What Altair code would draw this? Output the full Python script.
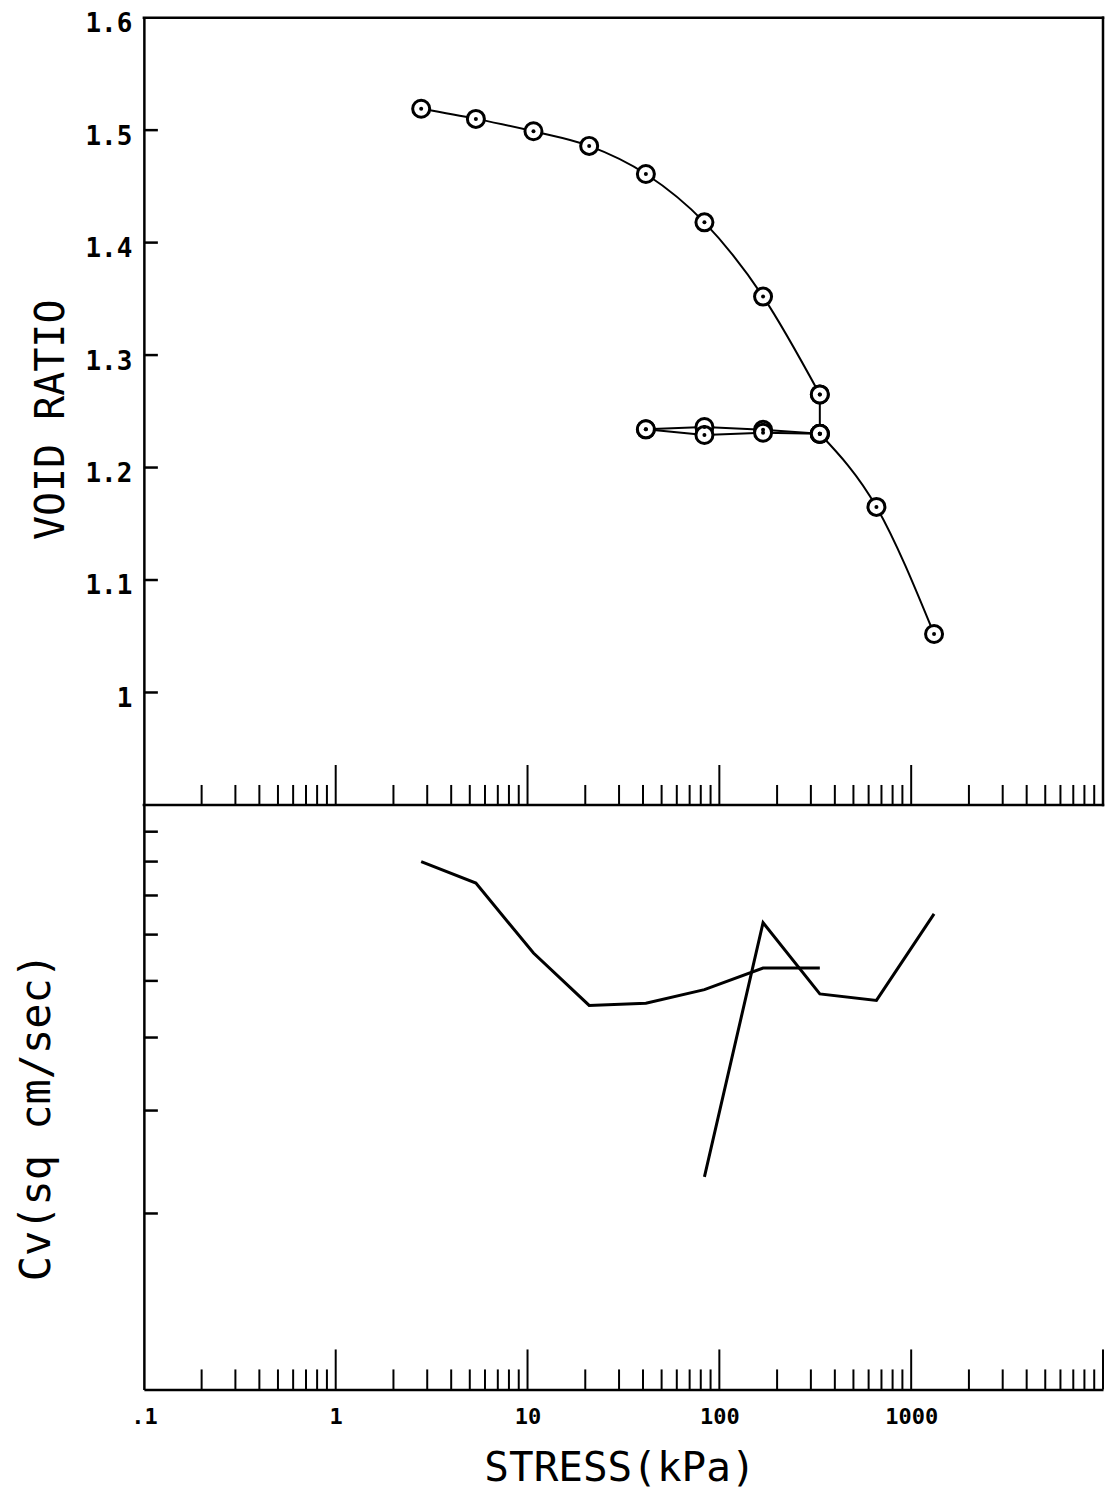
import altair as alt
import pandas as pd

# ---- void ratio vs stress (kPa) ----
load_stress = [2.79, 5.38, 10.74, 20.96, 41.4, 83.6, 169.0, 334.0]
load_void = [1.519, 1.510, 1.499, 1.486, 1.461, 1.418, 1.352, 1.265]
hold_stress = [334.0, 334.0]
hold_void = [1.265, 1.230]
unload_stress = [334.0, 169.0, 83.6, 41.4]
unload_void = [1.230, 1.2335, 1.236, 1.234]
reload_stress = [41.4, 83.6, 169.0, 334.0]
reload_void = [1.234, 1.229, 1.231, 1.230]
final_stress = [334.0, 659.0, 1316.0]
final_void = [1.230, 1.165, 1.052]

# ---- Cv (sq cm/sec) vs stress (kPa) ----
cv_load_stress = [2.79, 5.38, 10.74, 20.96, 41.4, 83.6, 169.0, 334.0]
cv_load = [8.00e-3, 7.35e-3, 5.58e-3, 4.54e-3, 4.58e-3, 4.83e-3, 5.26e-3, 5.26e-3]
cv_reload_stress = [83.6, 169.0, 334.0, 659.0, 1316.0]
cv_reload = [2.31e-3, 6.29e-3, 4.75e-3, 4.63e-3, 6.51e-3]

# ---- axis ticks / labels ----
x_label_values = [0.1, 1, 10, 100, 1000]
x_major_ticks = [1, 10, 100, 1000, 10000]
x_minor_ticks = [0.2, 0.3, 0.4, 0.5, 0.6, 0.7, 0.8, 0.9,
                 2, 3, 4, 5, 6, 7, 8, 9,
                 20, 30, 40, 50, 60, 70, 80, 90,
                 200, 300, 400, 500, 600, 700, 800, 900,
                 2000, 3000, 4000, 5000, 6000, 7000, 8000, 9000]
void_label_values = [1.0, 1.1, 1.2, 1.3, 1.4, 1.5, 1.6]
void_tick_values = [1.0, 1.1, 1.2, 1.3, 1.4, 1.5]
cv_tick_values = [0.002, 0.003, 0.004, 0.005, 0.006, 0.007, 0.008, 0.009]
stress_domain = [0.1, 10000]
void_domain = [0.9, 1.6]
cv_domain = [0.001, 0.01]

W = 960
H_TOP = 788
H_BOT = 585
H = H_TOP + H_BOT

rows = []
for seg, xs, ys in [("load", load_stress, load_void), ("hold", hold_stress, hold_void),
                    ("unload", unload_stress, unload_void), ("reload", reload_stress, reload_void),
                    ("final", final_stress, final_void)]:
    for i, (s, v) in enumerate(zip(xs, ys)):
        rows.append({"stress": s, "value": v, "seg": seg, "i": i})
void_df = pd.DataFrame(rows)

cv_rows = []
for seg, xs, ys in [("cvload", cv_load_stress, cv_load), ("cvreload", cv_reload_stress, cv_reload)]:
    for i, (s, v) in enumerate(zip(xs, ys)):
        cv_rows.append({"stress": s, "value": v, "seg": seg, "i": i})
cv_df = pd.DataFrame(cv_rows)

xminor_df = pd.DataFrame({"stress": x_minor_ticks})
xmajor_df = pd.DataFrame({"stress": x_major_ticks})
vtick_df = pd.DataFrame({"value": void_tick_values})
cvtick_df = pd.DataFrame({"value": cv_tick_values})
# frame of the upper panel (top edge, bottom edge, right edge)
hframe_df = pd.DataFrame({"stress": [stress_domain[0]] * 2, "stress2": [stress_domain[1]] * 2,
                          "value": void_domain})
vframe_df = pd.DataFrame({"stress": [stress_domain[1]], "value": [void_domain[0]],
                          "value2": [void_domain[1]]})

xscale = alt.Scale(type="log", domain=stress_domain, nice=False)
vscale = alt.Scale(domain=void_domain, nice=False, zero=False, range=[H_TOP, 0])
cscale = alt.Scale(type="log", domain=cv_domain, nice=False, range=[H, H_TOP])

FONT = "DejaVu Sans Mono"

top_y_axis = alt.Axis(
    title="VOID RATIO", orient="left", values=void_label_values,
    labelExpr="datum.value == 1 ? '1' : format(datum.value, '.1f')",
    labelFont=FONT, labelFontWeight="bold", labelFontSize=26, labelColor="black",
    labelPadding=12, labelOffset=6, labelFlush=False,
    ticks=False, tickSize=0, grid=False,
    domain=True, domainColor="black", domainWidth=2.5,
    titleFont=FONT, titleFontSize=40, titleFontWeight="normal", titleColor="black",
    titleX=-80, titleY=402, titleAngle=270, titleBaseline="alphabetic", titleAlign="center",
)
bot_y_axis = alt.Axis(
    title="Cv(sq cm/sec)", orient="left", labels=False, ticks=False, tickSize=0, grid=False,
    domain=True, domainColor="black", domainWidth=2.5,
    titleFont=FONT, titleFontSize=42, titleFontWeight="normal", titleColor="black",
    titleX=-94, titleY=H_TOP + 312, titleAngle=270, titleBaseline="alphabetic", titleAlign="center",
)
x_axis = alt.Axis(
    title="STRESS(kPa)", orient="bottom", values=x_label_values,
    labelExpr="datum.value < 1 ? '.1' : format(datum.value, 'd')",
    labelFont=FONT, labelFontWeight="bold", labelFontSize=22, labelColor="black",
    labelPadding=17, labelFlush=False,
    ticks=False, tickSize=0, grid=False,
    domain=True, domainColor="black", domainWidth=2.5,
    titleFont=FONT, titleFontSize=41, titleFontWeight="normal", titleColor="black",
    titleX=476, titleY=91, titleBaseline="alphabetic", titleAlign="center",
)


def X(field="stress"):
    return alt.X(f"{field}:Q", scale=xscale, axis=x_axis)


def Yv(field="value", axis=False):
    return alt.Y(f"{field}:Q", scale=vscale, axis=top_y_axis if axis else None)


def Yc(axis=False):
    return alt.Y("value:Q", scale=cscale, axis=bot_y_axis if axis else None)


base_top = alt.Chart(void_df)
smooth = base_top.transform_filter(
    alt.FieldOneOfPredicate(field="seg", oneOf=["load", "final"])
).mark_line(color="black", strokeWidth=2, interpolate="monotone").encode(
    x=X(), y=Yv(axis=True), detail="seg:N", order="i:Q")
straight = base_top.transform_filter(
    alt.FieldOneOfPredicate(field="seg", oneOf=["hold", "unload", "reload"])
).mark_line(color="black", strokeWidth=2).encode(
    x=X(), y=Yv(), detail="seg:N", order="i:Q")
rings = base_top.mark_point(shape="circle", filled=True, fill="white", stroke="black",
                            strokeWidth=3, size=290, opacity=1).encode(x=X(), y=Yv())
dots = base_top.mark_point(shape="circle", filled=True, color="black", size=16,
                           opacity=1).encode(x=X(), y=Yv())

hframe = alt.Chart(hframe_df).mark_rule(color="black", strokeWidth=2.5, strokeCap="square").encode(
    x=X(), x2="stress2:Q", y=Yv())
vframe = alt.Chart(vframe_df).mark_rule(color="black", strokeWidth=2.5, strokeCap="square").encode(
    x=X(), y=Yv(), y2="value2:Q")

tmin = alt.Chart(xminor_df).mark_rule(color="black", strokeWidth=2).encode(
    x=X(), y=alt.value(H_TOP), y2=alt.value(H_TOP - 20))
tmaj = alt.Chart(xmajor_df).mark_rule(color="black", strokeWidth=2).encode(
    x=X(), y=alt.value(H_TOP), y2=alt.value(H_TOP - 40))
bmin = alt.Chart(xminor_df).mark_rule(color="black", strokeWidth=2).encode(
    x=X(), y=alt.value(H), y2=alt.value(H - 20))
bmaj = alt.Chart(xmajor_df).mark_rule(color="black", strokeWidth=2).encode(
    x=X(), y=alt.value(H), y2=alt.value(H - 40))
vt = alt.Chart(vtick_df).mark_rule(color="black", strokeWidth=2.5).encode(
    y=Yv(), x=alt.value(0), x2=alt.value(14))
ct = alt.Chart(cvtick_df).mark_rule(color="black", strokeWidth=2.5).encode(
    y=Yc(), x=alt.value(0), x2=alt.value(14))

cvlines = alt.Chart(cv_df).mark_line(color="black", strokeWidth=3).encode(
    x=X(), y=Yc(axis=True), detail="seg:N", order="i:Q")

chart = alt.layer(
    smooth, straight, rings, dots, hframe, vframe,
    tmin, tmaj, bmin, bmaj, vt, ct, cvlines,
).resolve_scale(y="independent").resolve_axis(y="independent").properties(
    width=W, height=H,
    autosize=alt.AutoSizeParams(type="none"),
    padding={"left": 136, "top": 9, "right": 2, "bottom": 100},
    background="white",
).configure_view(stroke="transparent")

chart.save("out.html", embed_options={"renderer": "svg", "actions": False})
